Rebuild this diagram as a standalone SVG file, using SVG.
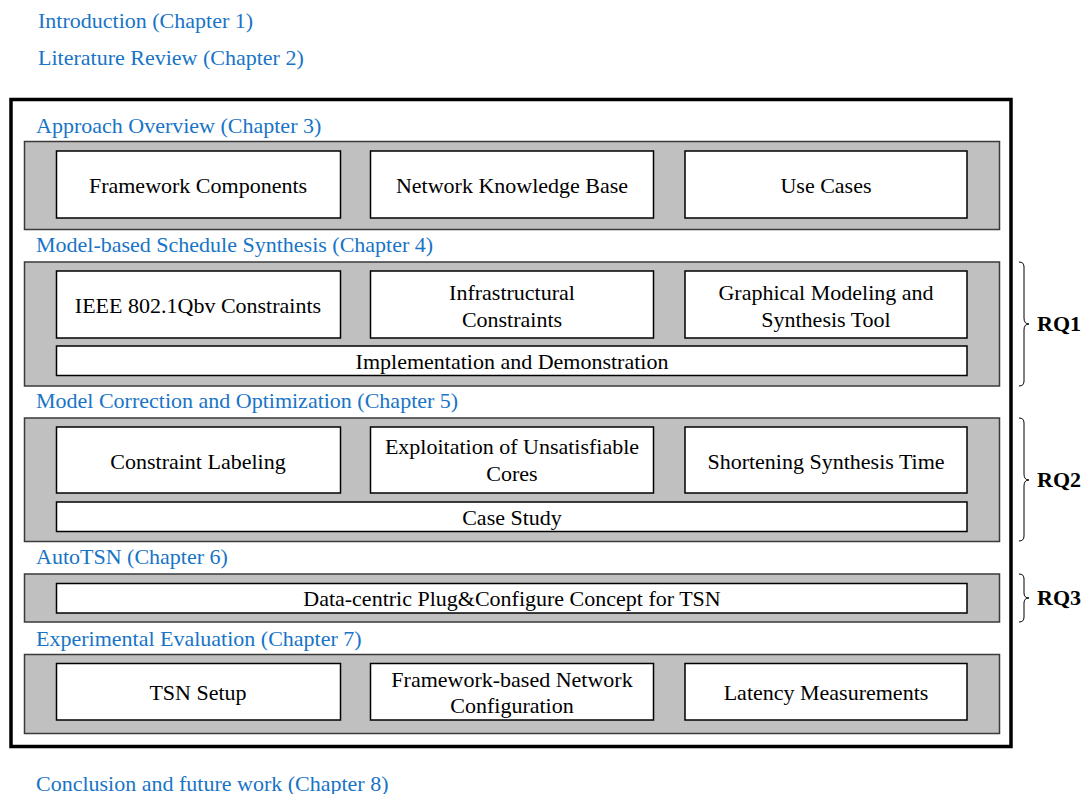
<svg xmlns="http://www.w3.org/2000/svg" width="1083" height="794" viewBox="0 0 1083 794">
  <style>
    .chap { font-family: "Liberation Serif", "Times New Roman", serif; font-size: 22px; fill: #1874c6; }
    .lbl { font-family: "Liberation Serif", "Times New Roman", serif; font-size: 22px; fill: #000; text-anchor: middle; }
    .rq { font-family: "Liberation Serif", "Times New Roman", serif; font-size: 22px; font-weight: bold; fill: #000; }
    .panel { fill: #c0c0c0; stroke: #3a3a3a; stroke-width: 1.5; }
    .box { fill: #fff; stroke: #000; stroke-width: 1.5; }
    .brace { fill: none; stroke: #000; stroke-width: 1; }
  </style>

  <rect width="1083" height="794" fill="#fff"/>

  <!-- chapters outside the frame -->
  <text class="chap" x="38" y="28">Introduction (Chapter 1)</text>
  <text class="chap" x="38" y="65">Literature Review (Chapter 2)</text>
  <text class="chap" x="36" y="791">Conclusion and future work (Chapter 8)</text>

  <!-- main frame -->
  <rect id="frame" x="11" y="99.5" width="1000" height="647" fill="none" stroke="#000" stroke-width="3.5"/>

  <!-- Chapter 3 -->
  <g id="ch3">
    <text class="chap" x="36" y="133">Approach Overview (Chapter 3)</text>
    <rect class="panel" x="24.5" y="141.5" width="975" height="88"/>
    <g id="framework-components">
      <rect class="box" x="56.5" y="151" width="284" height="67"/>
      <text class="lbl" x="198" y="193">Framework Components</text>
    </g>
    <g id="network-knowledge-base">
      <rect class="box" x="370.5" y="151" width="283" height="67"/>
      <text class="lbl" x="512" y="193">Network Knowledge Base</text>
    </g>
    <g id="use-cases">
      <rect class="box" x="685" y="151" width="282" height="67"/>
      <text class="lbl" x="826" y="193">Use Cases</text>
    </g>
  </g>

  <!-- Chapter 4 -->
  <g id="ch4">
    <text class="chap" x="36" y="252">Model-based Schedule Synthesis (Chapter 4)</text>
    <rect class="panel" x="24.5" y="262" width="975" height="124"/>
    <g id="qbv-constraints">
      <rect class="box" x="56.5" y="271" width="284" height="67"/>
      <text class="lbl" x="198" y="313">IEEE 802.1Qbv Constraints</text>
    </g>
    <g id="infra-constraints">
      <rect class="box" x="370.5" y="271" width="283" height="67"/>
      <text class="lbl" x="512" y="300">Infrastructural</text>
      <text class="lbl" x="512" y="327">Constraints</text>
    </g>
    <g id="modeling-tool">
      <rect class="box" x="685" y="271" width="282" height="67"/>
      <text class="lbl" x="826" y="300">Graphical Modeling and</text>
      <text class="lbl" x="826" y="327">Synthesis Tool</text>
    </g>
    <g id="implementation">
      <rect class="box" x="56.5" y="346" width="910.5" height="29.5"/>
      <text class="lbl" x="512" y="369">Implementation and Demonstration</text>
    </g>
  </g>

  <!-- Chapter 5 -->
  <g id="ch5">
    <text class="chap" x="36" y="408">Model Correction and Optimization (Chapter 5)</text>
    <rect class="panel" x="24.5" y="418" width="975" height="123.5"/>
    <g id="constraint-labeling">
      <rect class="box" x="56.5" y="427" width="284" height="66"/>
      <text class="lbl" x="198" y="469">Constraint Labeling</text>
    </g>
    <g id="unsat-cores">
      <rect class="box" x="370.5" y="427" width="283" height="66"/>
      <text class="lbl" x="512" y="454">Exploitation of Unsatisfiable</text>
      <text class="lbl" x="512" y="481">Cores</text>
    </g>
    <g id="synthesis-time">
      <rect class="box" x="685" y="427" width="282" height="66"/>
      <text class="lbl" x="826" y="469">Shortening Synthesis Time</text>
    </g>
    <g id="case-study">
      <rect class="box" x="56.5" y="502" width="910.5" height="29.5"/>
      <text class="lbl" x="512" y="525">Case Study</text>
    </g>
  </g>

  <!-- Chapter 6 -->
  <g id="ch6">
    <text class="chap" x="36" y="564">AutoTSN (Chapter 6)</text>
    <rect class="panel" x="24.5" y="574" width="975" height="48"/>
    <g id="plug-configure">
      <rect class="box" x="56.5" y="583.5" width="910.5" height="29.5"/>
      <text class="lbl" x="512" y="606">Data-centric Plug&amp;Configure Concept for TSN</text>
    </g>
  </g>

  <!-- Chapter 7 -->
  <g id="ch7">
    <text class="chap" x="36" y="646">Experimental Evaluation (Chapter 7)</text>
    <rect class="panel" x="24.5" y="654.5" width="975" height="79"/>
    <g id="tsn-setup">
      <rect class="box" x="56.5" y="663.5" width="284" height="56.5"/>
      <text class="lbl" x="198" y="700">TSN Setup</text>
    </g>
    <g id="network-config">
      <rect class="box" x="370.5" y="663.5" width="283" height="56.5"/>
      <text class="lbl" x="512" y="687">Framework-based Network</text>
      <text class="lbl" x="512" y="713">Configuration</text>
    </g>
    <g id="latency">
      <rect class="box" x="685" y="663.5" width="282" height="56.5"/>
      <text class="lbl" x="826" y="700">Latency Measurements</text>
    </g>
  </g>

  <!-- research question braces -->
  <g id="connectors">
    <path class="brace" d="M1019,262 Q1024,262 1024,267 L1024,318 Q1024,324 1029,324 Q1024,324 1024,330 L1024,381 Q1024,386 1019,386"/>
    <path class="brace" d="M1019,418 Q1024,418 1024,423 L1024,474 Q1024,480 1029,480 Q1024,480 1024,486 L1024,536 Q1024,541 1019,541"/>
    <path class="brace" d="M1019,574 Q1024,574 1024,579 L1024,593 Q1024,598 1029,598 Q1024,598 1024,603 L1024,617 Q1024,622 1019,622"/>
  </g>
  <g id="rq1"><text class="rq" x="1037" y="331">RQ1</text></g>
  <g id="rq2"><text class="rq" x="1037" y="487">RQ2</text></g>
  <g id="rq3"><text class="rq" x="1037" y="605">RQ3</text></g>
</svg>
